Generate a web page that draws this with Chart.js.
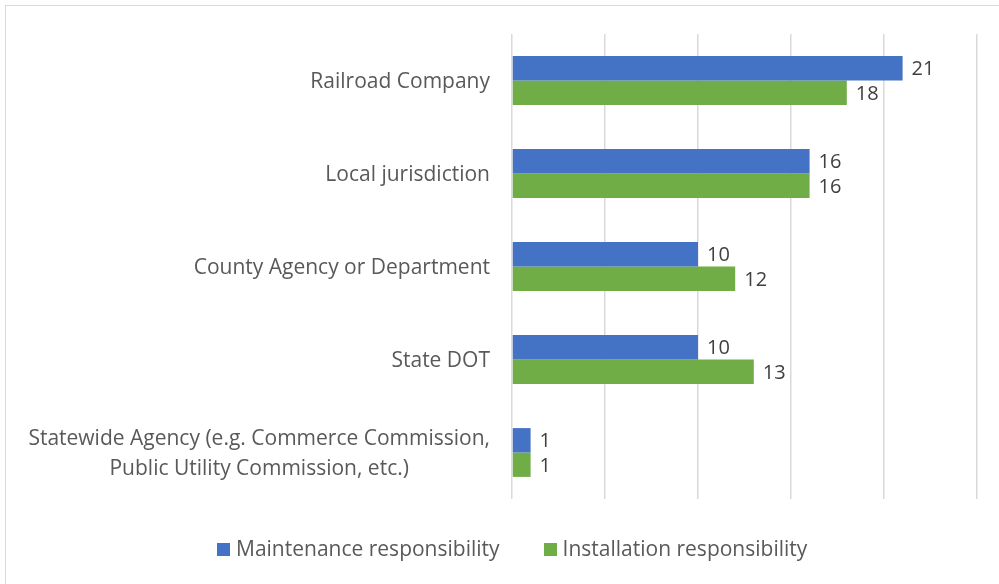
<!DOCTYPE html>
<html>
<head>
<meta charset="utf-8">
<script src="https://cdn.jsdelivr.net/npm/chart.js@4.4.1/dist/chart.umd.min.js"></script>
<style>
  html, body { margin: 0; padding: 0; background: #fff; }
  body { width: 999px; height: 584px; position: relative; overflow: hidden; font-family: "Open Sans", sans-serif; }
  #frame { position: absolute; left: 5px; top: 5px; width: 1000px; height: 600px; border: 1px solid #D9D9D9; box-sizing: border-box; }
  #wrap { position: absolute; left: 0; top: 0; width: 999px; height: 584px; }
  #legend { position: absolute; left: 217px; top: 533px; white-space: nowrap; font-size: 21px; line-height: 30px; color: #595959; }
  #legend span.item { display: inline-block; margin-right: 44px; }
  #legend span.box { display: inline-block; width: 13px; height: 13px; margin-right: 6px; vertical-align: 0px; }
</style>
</head>
<body>
<div id="frame"></div>
<div id="wrap"><canvas id="chart" width="999" height="584"></canvas></div>
<div id="legend"></div>
<script>
const categories = [
    ["Railroad Company"],
    ["Local jurisdiction"],
    ["County Agency or Department"],
    ["State DOT"],
    ["Statewide Agency (e.g. Commerce Commission,", "Public Utility Commission, etc.)"]
]
const seriesNames = ["Maintenance responsibility", "Installation responsibility"]
const maintenance = [21, 16, 10, 10, 1]
const installation = [18, 16, 12, 13, 1]
const xTicks = [0, 5, 10, 15, 20, 25]
const colors = ["#4472C4", "#70AD47"]

const CAT_FONT = "21px 'Open Sans', sans-serif"
const VAL_FONT = "20px 'Open Sans', sans-serif"

// category labels, right aligned block, lines centered inside it
const catLabels = {
    id: "catLabels",
    afterDraw(chart) {
        const ctx = chart.ctx
        const y = chart.scales.y
        const right = chart.chartArea.left - 22
        const lh = 30
        ctx.save()
        ctx.font = CAT_FONT
        ctx.fillStyle = "#595959"
        ctx.textAlign = "center"
        ctx.textBaseline = "middle"
        categories.forEach((lines, i) => {
            const cy = y.getPixelForTick(i) + 2
            const maxW = Math.max(...lines.map(l => ctx.measureText(l).width))
            const cx = right - maxW / 2
            lines.forEach((l, j) => {
                ctx.fillText(l, cx, cy + (j - (lines.length - 1) / 2) * lh)
            })
        })
        ctx.restore()
    }
}

// value labels at the end of each bar
const valueLabels = {
    id: "valueLabels",
    afterDatasetsDraw(chart) {
        const ctx = chart.ctx
        ctx.save()
        ctx.font = VAL_FONT
        ctx.fillStyle = "#404040"
        ctx.textAlign = "left"
        ctx.textBaseline = "middle"
        chart.data.datasets.forEach((ds, di) => {
            chart.getDatasetMeta(di).data.forEach((bar, i) => {
                ctx.fillText(String(ds.data[i]), bar.x + 9, bar.y + 1.5)
            })
        })
        ctx.restore()
    }
}

const chart = new Chart(document.getElementById("chart"), {
    type: "bar",
    data: {
        labels: categories.map(c => c.join(" ")),
        datasets: [
            { label: seriesNames[0], data: maintenance, backgroundColor: colors[0] },
            { label: seriesNames[1], data: installation, backgroundColor: colors[1] }
        ]
    },
    options: {
        indexAxis: "y",
        responsive: false,
        animation: false,
        devicePixelRatio: 1,
        categoryPercentage: 0.525,
        barPercentage: 1,
        layout: { padding: { top: 34, left: 0, right: 22, bottom: 85 } },
        scales: {
            x: {
                min: 0, max: 25,
                afterBuildTicks: s => { s.ticks = xTicks.map(v => ({ value: v })) },
                afterFit: s => { s.height = 0 },
                ticks: { display: false },
                border: { display: false },
                grid: { color: "#D9D9D9", lineWidth: 1.5, drawTicks: false }
            },
            y: {
                afterFit: s => { s.width = 512 },
                ticks: { display: false },
                grid: { display: false, drawTicks: false },
                border: { display: false }
            }
        },
        plugins: {
            legend: { display: false },
            tooltip: { enabled: false }
        }
    },
    plugins: [catLabels, valueLabels]
})

// legend below the plot
const legendEl = document.getElementById("legend")
chart.data.datasets.forEach(ds => {
    const item = document.createElement("span")
    item.className = "item"
    item.innerHTML = `<span class="box" style="background:${ds.backgroundColor}"></span>${ds.label}`
    legendEl.appendChild(item)
})
</script>
</body>
</html>
